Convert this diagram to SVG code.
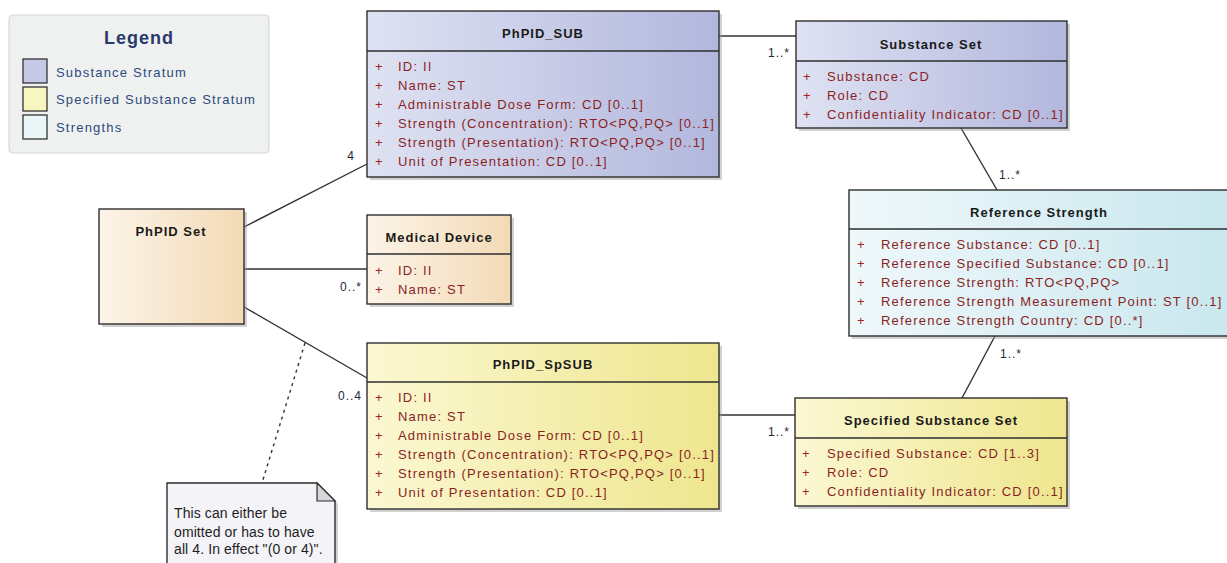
<svg xmlns="http://www.w3.org/2000/svg" width="1227" height="563" viewBox="0 0 1227 563">
<style>
.box{stroke:#2e2e2e;stroke-width:1.4}
.sh{fill:#9a9a9a;opacity:0.45}
.hl{stroke:#2e2e2e;stroke-width:1.4}
.title{font-family:"Liberation Sans",Arial,sans-serif;font-size:13px;font-weight:bold;fill:#1a1a1a;letter-spacing:1px;text-anchor:middle}
.attr{font-family:"Liberation Sans",Arial,sans-serif;font-size:13px;fill:#8a1f1f;letter-spacing:1.2px}
.plus{font-family:"Liberation Sans",Arial,sans-serif;font-size:13px;fill:#a02424}
.lbl{font-family:"Liberation Sans",Arial,sans-serif;font-size:12px;fill:#24283a;letter-spacing:1px}
.conn{stroke:#333;stroke-width:1.4;fill:none}
.leg{font-family:"Liberation Sans",Arial,sans-serif;font-size:13px;fill:#2c4a7c;letter-spacing:1.2px}
.note{font-family:"Liberation Sans",Arial,sans-serif;font-size:14px;fill:#1e1e1e;letter-spacing:0.1px}
</style>
<defs>
<linearGradient id="gSub" x1="0" y1="0" x2="1" y2="0"><stop offset="0" stop-color="#dfe2f2"/><stop offset="1" stop-color="#b2b7dd"/></linearGradient>
<linearGradient id="gSp" x1="0" y1="0" x2="1" y2="0"><stop offset="0" stop-color="#fbf8d2"/><stop offset="1" stop-color="#eee68e"/></linearGradient>
<linearGradient id="gStr" x1="0" y1="0" x2="1" y2="0"><stop offset="0" stop-color="#eff8fb"/><stop offset="1" stop-color="#c9e7ee"/></linearGradient>
<linearGradient id="gSet" x1="0" y1="0" x2="1" y2="0"><stop offset="0" stop-color="#fcf4e8"/><stop offset="1" stop-color="#f3dab6"/></linearGradient>
</defs>
<rect width="1227" height="563" fill="#ffffff"/>

<g id="legend">
<rect x="9" y="15" width="260" height="138" rx="4" fill="#eff1f1" stroke="#d6d9d9" stroke-width="1.2"/>
<text x="139" y="44" font-family="Liberation Sans,Arial,sans-serif" font-size="18" font-weight="bold" fill="#2b3a6b" text-anchor="middle" letter-spacing="1">Legend</text>
<rect x="23" y="59" width="24" height="24" fill="#c5c8e6" stroke="#333" stroke-width="1.3"/>
<rect x="23" y="87" width="24" height="24" fill="#f7f5c0" stroke="#333" stroke-width="1.3"/>
<rect x="23" y="115" width="24" height="24" fill="#eaf5f7" stroke="#333" stroke-width="1.3"/>
<text class="leg" x="56" y="76.5">Substance Stratum</text>
<text class="leg" x="56" y="104">Specified Substance Stratum</text>
<text class="leg" x="56" y="131.5">Strengths</text>
</g>

<g id="connectors">
<line class="conn" x1="244" y1="227" x2="367" y2="164"/>
<line class="conn" x1="244" y1="269" x2="367" y2="269"/>
<line class="conn" x1="244" y1="307" x2="367" y2="378"/>
<line class="conn" x1="719" y1="36" x2="796" y2="36"/>
<line class="conn" x1="961" y1="128" x2="997" y2="190"/>
<line class="conn" x1="995" y1="336" x2="962" y2="398"/>
<line class="conn" x1="719" y1="415" x2="795" y2="415"/>
<line class="conn" x1="305" y1="343" x2="262" y2="483" stroke-dasharray="3,4" stroke-width="1.3"/>
<text class="lbl" x="355" y="160" text-anchor="end">4</text>
<text class="lbl" x="362" y="291" text-anchor="end">0..*</text>
<text class="lbl" x="362" y="400" text-anchor="end">0..4</text>
<text class="lbl" x="790" y="57" text-anchor="end">1..*</text>
<text class="lbl" x="999" y="179">1..*</text>
<text class="lbl" x="1000" y="358">1..*</text>
<text class="lbl" x="790" y="436" text-anchor="end">1..*</text>
</g>

<g id="phpid_sub">
<rect class="sh" x="370" y="14" width="352" height="166"/>
<rect class="box" x="367" y="11" width="352" height="166" fill="url(#gSub)"/>
<line class="hl" x1="367" y1="51" x2="719" y2="51"/>
<text class="title" x="543" y="37.5">PhPID_SUB</text>
<text class="plus" x="375" y="70.5">+</text><text class="attr" x="398" y="70.5">ID: II</text>
<text class="plus" x="375" y="89.5">+</text><text class="attr" x="398" y="89.5">Name: ST</text>
<text class="plus" x="375" y="108.5">+</text><text class="attr" x="398" y="108.5">Administrable Dose Form: CD [0..1]</text>
<text class="plus" x="375" y="127.5">+</text><text class="attr" x="398" y="127.5">Strength (Concentration): RTO&lt;PQ,PQ&gt; [0..1]</text>
<text class="plus" x="375" y="146.5">+</text><text class="attr" x="398" y="146.5">Strength (Presentation): RTO&lt;PQ,PQ&gt; [0..1]</text>
<text class="plus" x="375" y="165.5">+</text><text class="attr" x="398" y="165.5">Unit of Presentation: CD [0..1]</text>
</g>

<g id="substance_set">
<rect class="sh" x="799" y="24" width="271" height="107"/>
<rect class="box" x="796" y="21" width="271" height="107" fill="url(#gSub)"/>
<line class="hl" x1="796" y1="61" x2="1067" y2="61"/>
<text class="title" x="931" y="48.5">Substance Set</text>
<text class="plus" x="803" y="80.5">+</text><text class="attr" x="827" y="80.5">Substance: CD</text>
<text class="plus" x="803" y="99.5">+</text><text class="attr" x="827" y="99.5">Role: CD</text>
<text class="plus" x="803" y="118.5">+</text><text class="attr" x="827" y="118.5">Confidentiality Indicator: CD [0..1]</text>
</g>

<g id="reference_strength">
<rect class="sh" x="852" y="193" width="380" height="146"/>
<rect class="box" x="849" y="190" width="382" height="146" fill="url(#gStr)"/>
<line class="hl" x1="849" y1="229" x2="1231" y2="229"/>
<text class="title" x="1039" y="216.5">Reference Strength</text>
<text class="plus" x="857" y="248.5">+</text><text class="attr" x="881" y="248.5">Reference Substance: CD [0..1]</text>
<text class="plus" x="857" y="267.5">+</text><text class="attr" x="881" y="267.5">Reference Specified Substance: CD [0..1]</text>
<text class="plus" x="857" y="286.5">+</text><text class="attr" x="881" y="286.5">Reference Strength: RTO&lt;PQ,PQ&gt;</text>
<text class="plus" x="857" y="305.5">+</text><text class="attr" x="881" y="305.5">Reference Strength Measurement Point: ST [0..1]</text>
<text class="plus" x="857" y="324.5">+</text><text class="attr" x="881" y="324.5">Reference Strength Country: CD [0..*]</text>
</g>

<g id="phpid_set">
<rect class="sh" x="102" y="212" width="145" height="115"/>
<rect class="box" x="99" y="209" width="145" height="115" fill="url(#gSet)"/>
<text class="title" x="171" y="235.5">PhPID Set</text>
</g>

<g id="medical_device">
<rect class="sh" x="370" y="218" width="144" height="89"/>
<rect class="box" x="367" y="215" width="144" height="89" fill="url(#gSet)"/>
<line class="hl" x1="367" y1="254" x2="511" y2="254"/>
<text class="title" x="439" y="241.5">Medical Device</text>
<text class="plus" x="375" y="274.5">+</text><text class="attr" x="398" y="274.5">ID: II</text>
<text class="plus" x="375" y="293.5">+</text><text class="attr" x="398" y="293.5">Name: ST</text>
</g>

<g id="phpid_spsub">
<rect class="sh" x="370" y="346" width="352" height="166"/>
<rect class="box" x="367" y="343" width="352" height="166" fill="url(#gSp)"/>
<line class="hl" x1="367" y1="382" x2="719" y2="382"/>
<text class="title" x="543" y="368.5">PhPID_SpSUB</text>
<text class="plus" x="375" y="401.5">+</text><text class="attr" x="398" y="401.5">ID: II</text>
<text class="plus" x="375" y="420.5">+</text><text class="attr" x="398" y="420.5">Name: ST</text>
<text class="plus" x="375" y="439.5">+</text><text class="attr" x="398" y="439.5">Administrable Dose Form: CD [0..1]</text>
<text class="plus" x="375" y="458.5">+</text><text class="attr" x="398" y="458.5">Strength (Concentration): RTO&lt;PQ,PQ&gt; [0..1]</text>
<text class="plus" x="375" y="477.5">+</text><text class="attr" x="398" y="477.5">Strength (Presentation): RTO&lt;PQ,PQ&gt; [0..1]</text>
<text class="plus" x="375" y="496.5">+</text><text class="attr" x="398" y="496.5">Unit of Presentation: CD [0..1]</text>
</g>

<g id="specified_substance_set">
<rect class="sh" x="798" y="401" width="272" height="108"/>
<rect class="box" x="795" y="398" width="272" height="108" fill="url(#gSp)"/>
<line class="hl" x1="795" y1="438" x2="1067" y2="438"/>
<text class="title" x="931" y="424.5">Specified Substance Set</text>
<text class="plus" x="802" y="457.5">+</text><text class="attr" x="827" y="457.5">Specified Substance: CD [1..3]</text>
<text class="plus" x="802" y="476.5">+</text><text class="attr" x="827" y="476.5">Role: CD</text>
<text class="plus" x="802" y="495.5">+</text><text class="attr" x="827" y="495.5">Confidentiality Indicator: CD [0..1]</text>
</g>

<g id="note">
<polygon class="sh" points="170,486 320,486 338,504 338,570 170,570"/>
<polygon points="167,483 317,483 335,501 335,568 167,568" fill="#f4f3f7" stroke="#2e2e2e" stroke-width="1.4"/>
<polygon points="317,483 317,501 335,501" fill="#d6d6da" stroke="#2e2e2e" stroke-width="1.2"/>
<text class="note" x="174" y="518">This can either be</text>
<text class="note" x="174" y="536.5">omitted or has to have</text>
<text class="note" x="174" y="554">all 4. In effect "(0 or 4)".</text>
</g>
</svg>
